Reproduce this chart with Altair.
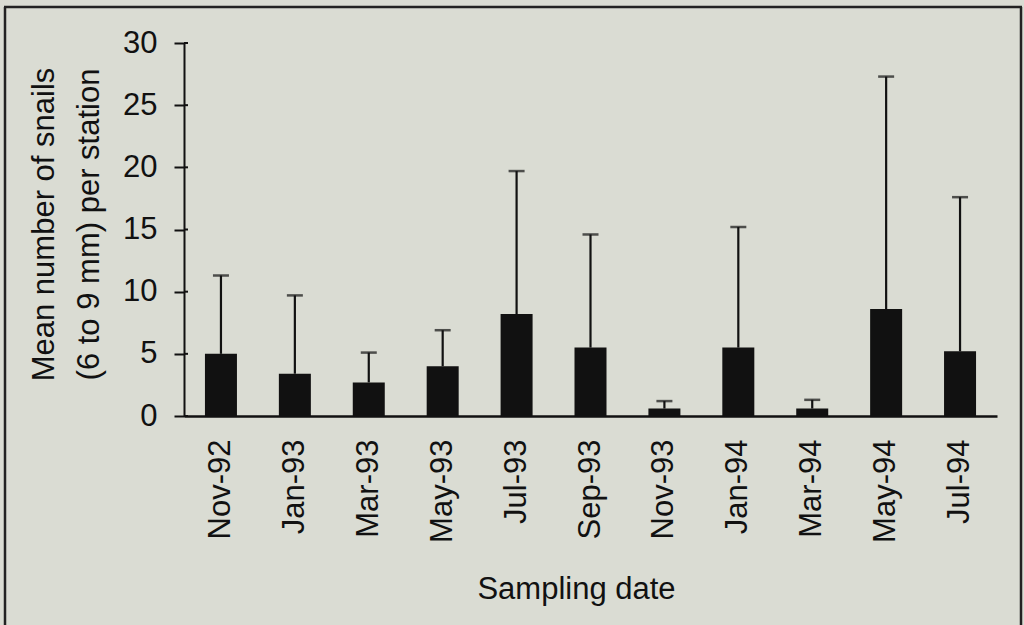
import altair as alt
import pandas as pd

# Sampling dates and snail counts (mean and upper error limit)
dates = ["Nov-92", "Jan-93", "Mar-93", "May-93", "Jul-93", "Sep-93",
         "Nov-93", "Jan-94", "Mar-94", "May-94", "Jul-94"]
means = [5.0, 3.4, 2.7, 4.0, 8.2, 5.5, 0.6, 5.5, 0.6, 8.6, 5.2]
upper = [11.3, 9.7, 5.1, 6.9, 19.7, 14.6, 1.2, 15.2, 1.3, 27.3, 17.6]
y_ticks = [0, 5, 10, 15, 20, 25, 30]

FONT = "Liberation Sans"
FS = 31
INK = "#111111"
BG = "#dadcd3"

df = pd.DataFrame({"date": dates, "mean": means, "upper": upper})
ticks_df = pd.DataFrame({"v": y_ticks})
one = pd.DataFrame({"k": [0]})

x_enc = alt.X(
    "date:N", sort=dates,
    scale=alt.Scale(paddingInner=0, paddingOuter=0),
    axis=alt.Axis(
        title="Sampling date", titleFont=FONT, titleFontSize=FS, titleFontWeight="normal",
        titleColor=INK, titleX=392, titleY=182, titleAlign="center",
        titleBaseline="alphabetic", titleAngle=0,
        labelFont=FONT, labelFontSize=FS, labelColor=INK, labelAngle=270,
        labelPadding=23, ticks=False, domainColor=INK, domainWidth=2.5,
        grid=False,
    ),
)

y_scale = alt.Scale(domain=[0, 30], nice=False, zero=True)
y_axis = alt.Axis(
    values=y_ticks, title=["Mean number of snails", "(6 to 9 mm) per station"],
    titleFont=FONT, titleFontSize=FS, titleFontWeight="normal", titleColor=INK,
    titleAngle=270, titleX=-131, titleY=181, titleAlign="center",
    titleBaseline="alphabetic", titleLineHeight=45,
    labelFont=FONT, labelFontSize=FS, labelColor=INK, labelPadding=17,
    tickSize=10, tickWidth=2, tickColor=INK, domainColor=INK, domainWidth=2,
    grid=False,
)

base = alt.Chart(df)

bars = base.mark_bar(color=INK, size=32).encode(
    x=x_enc,
    y=alt.Y("mean:Q", scale=y_scale, axis=y_axis),
)

err_line = base.mark_rule(color=INK, strokeWidth=2.2).encode(
    x=alt.X("date:N", sort=dates),
    y="mean:Q",
    y2="upper:Q",
)

err_cap = base.mark_tick(color=INK, size=16, thickness=2.5, orient="horizontal").encode(
    x=alt.X("date:N", sort=dates),
    y="upper:Q",
)

# short inner part of the y tick marks (they cross the axis line)
inner_ticks = alt.Chart(ticks_df).mark_rule(color=INK, strokeWidth=2).encode(
    y="v:Q",
    x=alt.value(0),
    x2=alt.value(4),
)

# page frame: left, top and right edges
frame_left = alt.Chart(one).mark_rule(color="#222222", strokeWidth=2.5).encode(
    x=alt.value(-179), y=alt.value(-36), y2=alt.value(640))
frame_top = alt.Chart(one).mark_rule(color="#222222", strokeWidth=2.5).encode(
    x=alt.value(-180), x2=alt.value(838), y=alt.value(-36))
frame_right = alt.Chart(one).mark_rule(color="#222222", strokeWidth=2.5).encode(
    x=alt.value(837), y=alt.value(-36), y2=alt.value(640))

chart = alt.layer(
    bars, err_line, err_cap, inner_ticks, frame_left, frame_top, frame_right
).properties(
    width=813, height=373,
    autosize=alt.AutoSizeParams(type="none"),
    padding={"left": 184, "top": 43, "right": 27, "bottom": 209},
    background=BG,
).configure_view(stroke=None)

chart.save("out.html", embed_options={"renderer": "svg", "actions": False})
